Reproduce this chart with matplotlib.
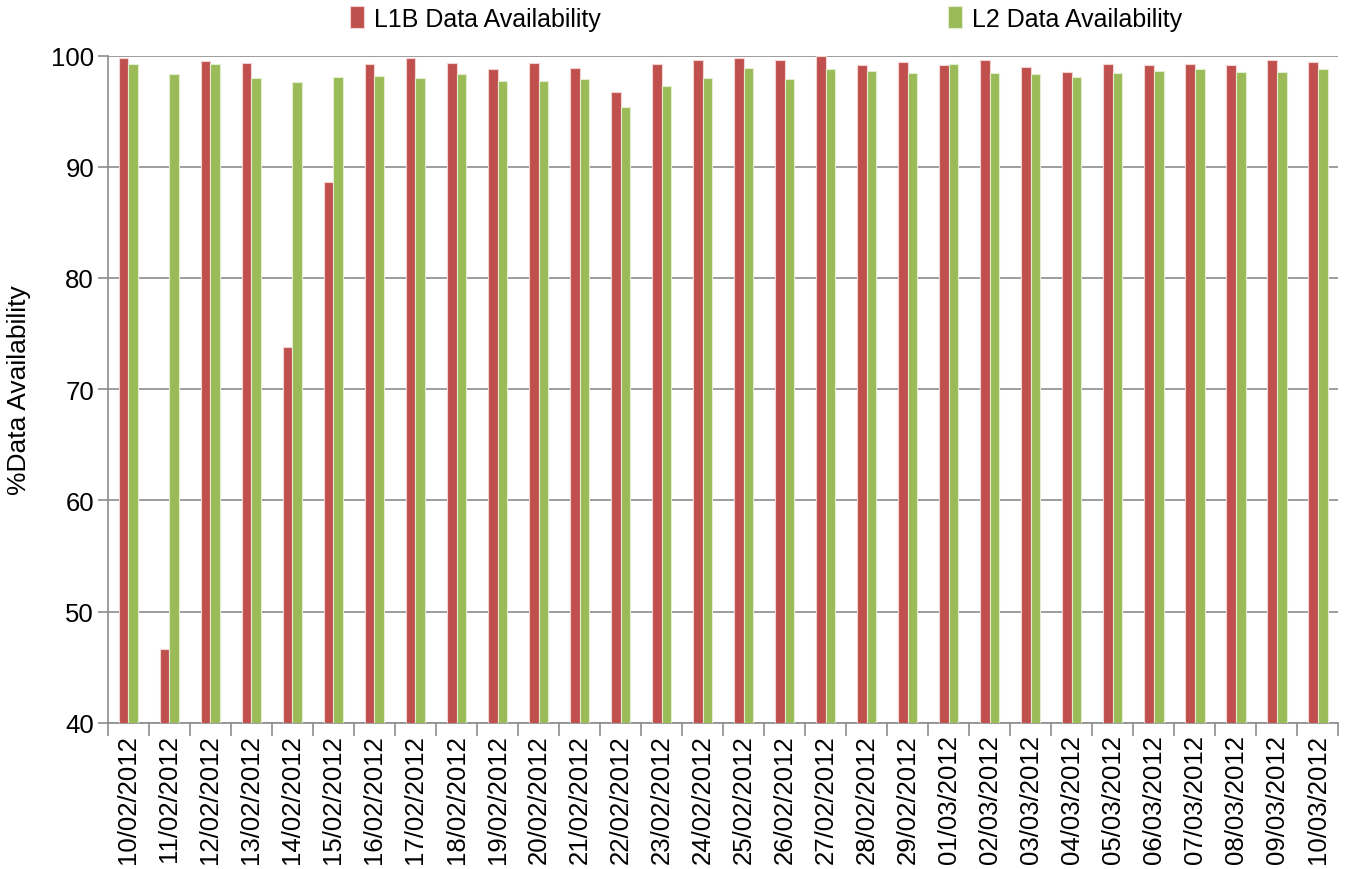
import matplotlib
matplotlib.use("Agg")
import matplotlib.pyplot as plt
import numpy as np

dates = ["10/02/2012", "11/02/2012", "12/02/2012", "13/02/2012", "14/02/2012",
         "15/02/2012", "16/02/2012", "17/02/2012", "18/02/2012", "19/02/2012",
         "20/02/2012", "21/02/2012", "22/02/2012", "23/02/2012", "24/02/2012",
         "25/02/2012", "26/02/2012", "27/02/2012", "28/02/2012", "29/02/2012",
         "01/03/2012", "02/03/2012", "03/03/2012", "04/03/2012", "05/03/2012",
         "06/03/2012", "07/03/2012", "08/03/2012", "09/03/2012", "10/03/2012"]

l1b = [99.8, 46.6, 99.5, 99.3, 73.8, 88.6, 99.25, 99.8, 99.35, 98.8,
       99.35, 98.9, 96.7, 99.25, 99.6, 99.8, 99.6, 100.0, 99.15, 99.45,
       99.15, 99.6, 99.0, 98.55, 99.25, 99.15, 99.25, 99.15, 99.6, 99.45]

l2 = [99.25, 98.3, 99.25, 97.95, 97.6, 98.05, 98.2, 97.95, 98.3, 97.75,
      97.75, 97.85, 95.4, 97.25, 97.95, 98.9, 97.85, 98.8, 98.65, 98.45,
      99.25, 98.45, 98.3, 98.1, 98.45, 98.65, 98.8, 98.55, 98.55, 98.8]

red = "#C0504D"
green = "#9BBB59"

plt.rcParams['font.family'] = ['Liberation Sans', 'DejaVu Sans']

fig = plt.figure(figsize=(13.49, 8.7), dpi=100)
ax = fig.add_axes([0.080, 0.168, 0.912, 0.767])

x = np.arange(len(dates))
w = 0.24
ax.bar(x - w / 2, l1b, w, color=red, edgecolor="#f2d4d3", linewidth=0.8,
       label="L1B Data Availability", zorder=3)
ax.bar(x + w / 2, l2, w, color=green, edgecolor="#e3edd0", linewidth=0.8,
       label="L2 Data Availability", zorder=3)

ax.set_xlim(-0.5, len(dates) - 0.5)
ax.set_ylim(40, 100)
ax.set_yticks(np.arange(40, 101, 10))
ax.yaxis.grid(True, color="#8c8c8c", linewidth=1.2, zorder=0)
ax.set_xticks(x)
ax.set_xticklabels(dates, rotation=90, fontsize=18.5)
ax.set_xticks(np.arange(-0.5, len(dates), 1), minor=True)
ax.tick_params(axis="x", which="major", length=0, pad=8)
ax.tick_params(axis="x", which="minor", length=9, color="#8c8c8c", width=1.2)
ax.tick_params(axis="y", labelsize=18.5, length=7, color="#8c8c8c", width=1.2, pad=3)
ax.set_ylabel("%Data Availability", fontsize=19, labelpad=14)

for s in ["top", "right"]:
    ax.spines[s].set_visible(False)
for s in ["left", "bottom"]:
    ax.spines[s].set_color("#8c8c8c")
    ax.spines[s].set_linewidth(1.2)

fig.legend(loc="upper center", bbox_to_anchor=(0.568, 1.018), ncol=2, frameon=False,
           handlelength=0.55, handleheight=1.0, handletextpad=0.4,
           columnspacing=13.9,
           prop={'family': ['Liberation Sans Narrow', 'Liberation Sans', 'DejaVu Sans'], 'size': 18})

fig.savefig("out.png", dpi=100)
